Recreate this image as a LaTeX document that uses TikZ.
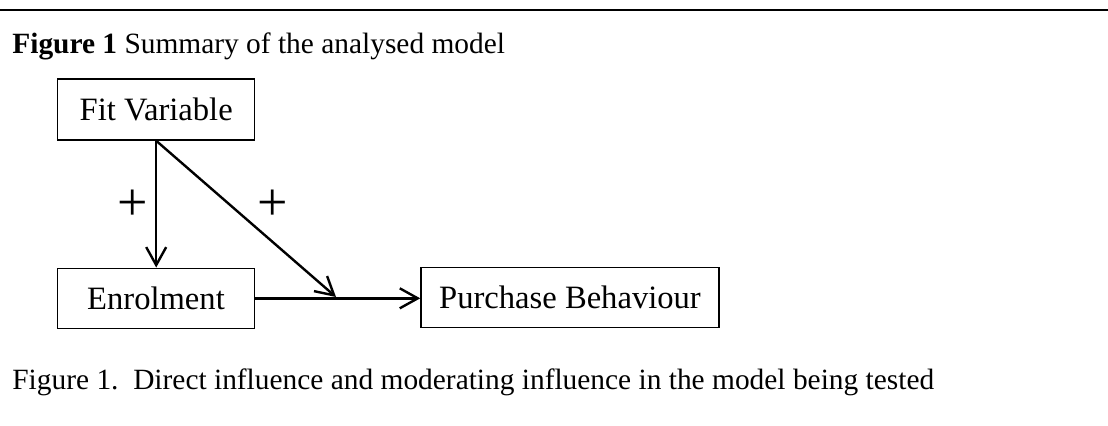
\documentclass[tikz,border=0pt]{standalone}
\usepackage{fontspec}
\setmainfont{Liberation Serif}
\usetikzlibrary{arrows.meta,calc}
\tikzset{
  box/.style={draw, line width=0.75pt, inner sep=0pt, minimum height=30pt, font=\fontsize{16.3}{18}\selectfont},
  conn/.style={line width=1.2pt, -{Straight Barb[length=9pt,width=10pt,line width=1.2pt]}},
  plus/.style={inner sep=0pt, font=\fontsize{27}{27}\selectfont},
  txt/.style={inner sep=0pt, anchor=base west, font=\fontsize{14.7}{17}\selectfont}
}
\begin{document}
\begin{tikzpicture}[x=0.5pt,y=-0.5pt]
\useasboundingbox (0,0) rectangle (1108,425);
\fill[white] (0,0) rectangle (1108,425);
\coordinate (rl) at (0,10);
\coordinate (rr) at (1108,10);
\draw[line width=1.3pt] (rl) -- (rr);
\node[txt] (title) at (12,53) {\textbf{Figure 1} Summary of the analysed model};
\node[box, minimum width=98.5pt, minimum height=30.5pt] (fit) at (156.2,109.5) {Fit Variable};
\node[box, minimum width=98.3pt] (enrol) at (156,298.3) {Enrolment};
\node[box, minimum width=149pt] (purch) at (570,297.3) {Purchase Behaviour};
\coordinate (m) at (336,297);
\draw[conn] (fit.south) -- (fit.south |- enrol.north);
\draw[conn] (enrol.east) -- (enrol.east -| purch.west);
\draw[conn] (fit.south) -- (m);
\node[plus] (p1) at (133,205) {+};
\node[plus] (p2) at (273,205) {+};
\node[txt] (cap) at (12,389) {Figure 1.\ \ Direct influence and moderating influence in the model being tested};
\end{tikzpicture}
\end{document}
